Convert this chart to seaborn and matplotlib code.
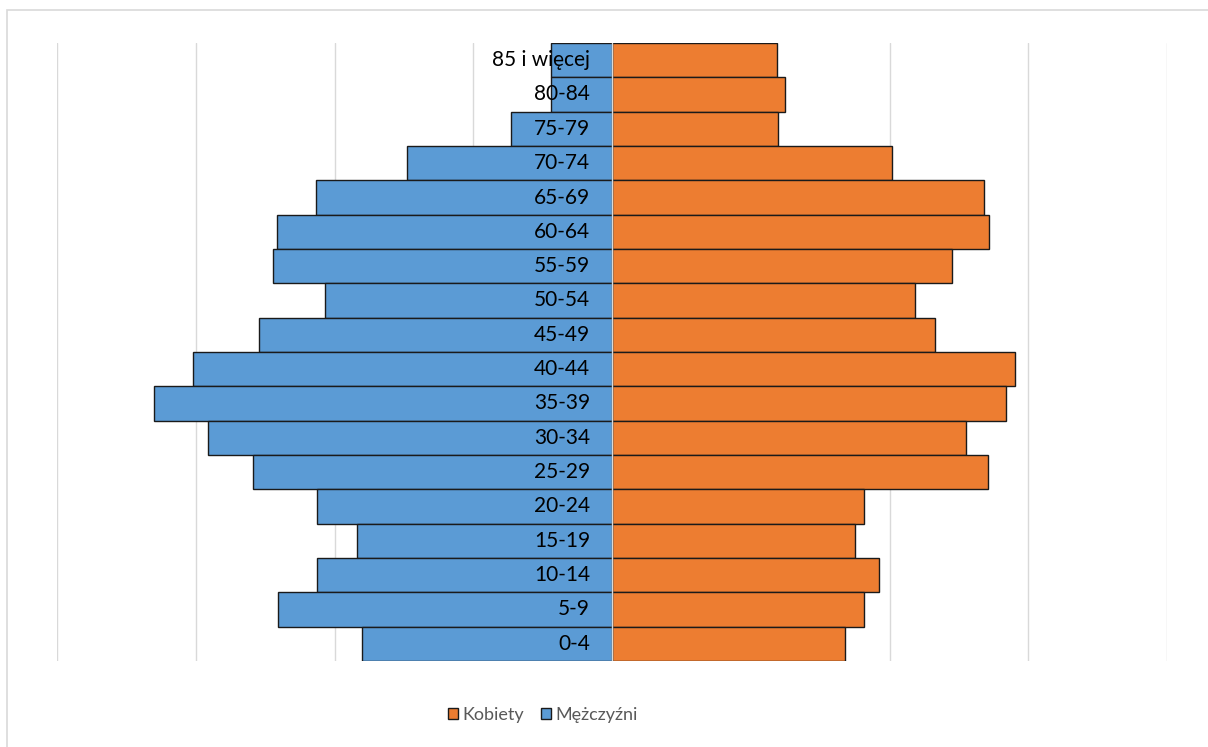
import pandas as pd
import seaborn as sns
import matplotlib.pyplot as plt
from matplotlib.patches import Rectangle
from matplotlib.transforms import offset_copy

# Age groups, top of the pyramid first
age_groups = ["85 i więcej", "80-84", "75-79", "70-74", "65-69", "60-64", "55-59",
              "50-54", "45-49", "40-44", "35-39", "30-34", "25-29", "20-24",
              "15-19", "10-14", "5-9", "0-4"]
men = [88, 88, 146, 295, 427, 483, 489, 414, 509, 604, 660, 582, 517, 425,
       368, 425, 481, 360]
women = [238, 249, 239, 404, 536, 543, 490, 437, 466, 581, 568, 510, 542, 363,
         350, 385, 363, 336]
grid_ticks = [-800, -600, -400, -200, 0, 200, 400, 600, 800]

df = pd.concat([
    pd.DataFrame({"age": age_groups, "value": women, "sex": "Kobiety"}),
    pd.DataFrame({"age": age_groups, "value": [-v for v in men], "sex": "Mężczyźni"}),
])

sns.set_theme(style="white")
plt.rcParams["font.family"] = ["Lato", "DejaVu Sans"]

fig = plt.figure(figsize=(12.08, 7.47), dpi=100)
ax = fig.add_axes([57 / 1208, 1 - 661 / 747, 1110 / 1208, 618 / 747])

sns.barplot(
    data=df, y="age", x="value", hue="sex", order=age_groups,
    hue_order=["Kobiety", "Mężczyźni"],
    palette={"Kobiety": "#ED7D31", "Mężczyźni": "#5B9BD5"},
    saturation=1, dodge=False, width=1.0, edgecolor="#1a1a1a", linewidth=1.0,
    orient="h", ax=ax, zorder=2,
)

ax.set_xlim(-800, 800)
ax.set_ylim(len(age_groups) - 0.5, -0.5)
ax.set_xticks(grid_ticks)
ax.set_xticklabels([])
ax.set_yticks([])
ax.set_xlabel("")
ax.set_ylabel("")
ax.tick_params(length=0)
for s in ax.spines.values():
    s.set_visible(False)
ax.grid(axis="x", color="#d9d9d9", linewidth=1.0, zorder=0)
ax.set_axisbelow(True)
ax.axvline(0, color="#d9d9d9", linewidth=1.0, zorder=3)

# category labels sit just left of the centre line
lbl_tr = offset_copy(ax.transData, fig=fig, x=-22, y=0, units="dots")
for i, name in enumerate(age_groups):
    ax.text(0, i, name, transform=lbl_tr, ha="right", va="center",
            fontsize=15, color="#000000", zorder=4)

handles, labels = ax.get_legend_handles_labels()
ax.legend_.remove()
leg = fig.legend(handles, labels, loc="center", bbox_to_anchor=(543 / 1208, 1 - 715 / 747),
                 ncol=2, frameon=False, fontsize=13, handlelength=0.55, handleheight=0.55,
                 handletextpad=0.25, columnspacing=0.9)
for t in leg.get_texts():
    t.set_color("#595959")

# light chart-area frame (top and left edges visible)
fig.add_artist(Rectangle((7 / 1208, -0.05), 1.2, 1 - 10 / 747 + 0.05, transform=fig.transFigure,
                         fill=False, edgecolor="#d9d9d9", linewidth=1.2))

fig.savefig("out.png", dpi=100)
plt.close(fig)
